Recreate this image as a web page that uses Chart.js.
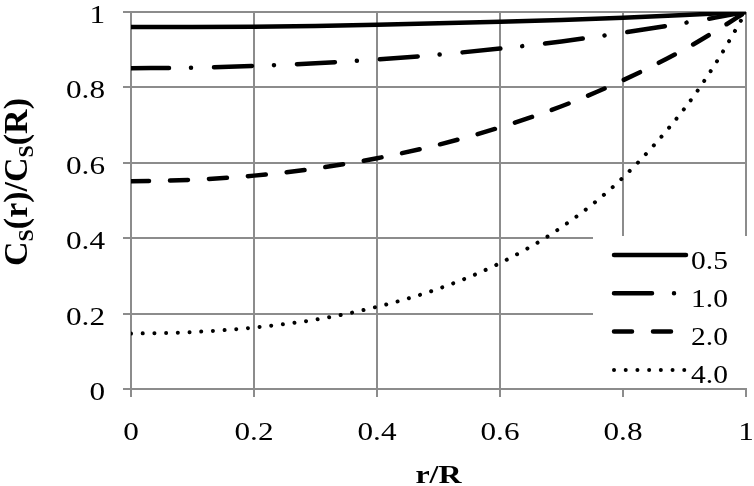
<!DOCTYPE html>
<html>
<head>
<meta charset="utf-8">
<script src="https://cdn.jsdelivr.net/npm/chart.js@4.4.0/dist/chart.umd.min.js"></script>
<style>
html, body { margin: 0; padding: 0; background: #fff; }
</style>
</head>
<body>
<canvas id="myChart" width="754" height="486"></canvas>
<script>
// values
var rValues = [0, 0.1, 0.2, 0.3, 0.4, 0.5, 0.6, 0.7, 0.8, 0.9, 0.95, 1];
var series05 = [0.960, 0.960, 0.961, 0.963, 0.966, 0.970, 0.974, 0.979, 0.985, 0.992, 0.996, 1];
var series10 = [0.851, 0.852, 0.857, 0.864, 0.874, 0.887, 0.903, 0.922, 0.945, 0.971, 0.985, 1];
var series20 = [0.551, 0.555, 0.566, 0.585, 0.612, 0.648, 0.694, 0.750, 0.819, 0.901, 0.949, 1];
var series40 = [0.147, 0.151, 0.163, 0.184, 0.218, 0.266, 0.334, 0.429, 0.561, 0.744, 0.862, 1];
var seriesNames = ['0.5', '1.0', '2.0', '4.0'];
var xTickLabels = ['0', '0.2', '0.4', '0.6', '0.8', '1'];
var yTickLabels = ['0', '0.2', '0.4', '0.6', '0.8', '1'];
var xTitle = 'r/R';

var serif = '"Liberation Serif", "Times New Roman", serif';
var gridColor = '#8c8c8c';
var textStretch = 1.2; // the source picture has wide text

function toPoints(ys) {
    return rValues.map(function (r, i) { return { x: r, y: ys[i] }; });
}

// draw text a bit wider than normal, like in the source picture
function wideText(ctx, text, x, y, align, font, sx) {
    ctx.save();
    ctx.font = font;
    ctx.translate(x, y);
    ctx.scale(sx, 1);
    ctx.textAlign = align;
    ctx.textBaseline = 'alphabetic';
    ctx.fillStyle = '#000';
    ctx.fillText(text, 0, 0);
    ctx.restore();
}

// tick labels and x title
var axisText = {
    id: 'axisText',
    afterDraw: function (chart) {
        var ctx = chart.ctx;
        var xs = chart.scales.x, ys = chart.scales.y;
        var font = '26px ' + serif;
        xs.ticks.forEach(function (t, i) {
            wideText(ctx, xTickLabels[i], xs.getPixelForTick(i), xs.top + 51, 'center', font, textStretch);
        });
        ys.ticks.forEach(function (t, i) {
            wideText(ctx, yTickLabels[i], ys.right - 26, ys.getPixelForTick(i) + 11, 'right', font, textStretch);
        });
        var area = chart.chartArea;
        wideText(ctx, xTitle, (area.left + area.right) / 2, 483, 'center', 'bold 25px ' + serif, 1.28);
    }
};

// legend drawn inside the plot, bottom right, on a white box
var legendBox = {
    id: 'legendBox',
    afterDatasetsDraw: function (chart) {
        var ctx = chart.ctx;
        var area = chart.chartArea;
        ctx.save();
        ctx.fillStyle = '#fff';
        ctx.fillRect(area.right - 153, area.bottom - 153, 170, 152);
        chart.data.datasets.forEach(function (ds, i) {
            var y = area.bottom - 134 + i * 38.3;
            ctx.beginPath();
            ctx.setLineDash(ds.borderDash || []);
            ctx.lineCap = ds.borderCapStyle || 'butt';
            ctx.lineWidth = ds.borderWidth;
            ctx.strokeStyle = ds.borderColor;
            ctx.moveTo(area.right - 132, y);
            ctx.lineTo(area.right - 60, y);
            ctx.stroke();
            ctx.setLineDash([]);
            wideText(ctx, ds.label, area.right - 55, y + 13.5, 'left', '25px ' + serif, 1.18);
        });
        ctx.restore();
    }
};

// y title with subscripts: C_S(r)/C_S(R)
var yTitle = {
    id: 'yTitle',
    afterDraw: function (chart) {
        var ctx = chart.ctx;
        var parts = [['C', 0], ['S', 1], ['(r)/', 0], ['C', 0], ['S', 1], ['(R)', 0]];
        var mainFont = 'bold 34px ' + serif;
        var subFont = 'bold 22px ' + serif;
        ctx.save();
        ctx.translate(27, 182);
        ctx.rotate(-Math.PI / 2);
        ctx.fillStyle = '#000';
        ctx.textBaseline = 'alphabetic';
        ctx.textAlign = 'left';
        var total = 0;
        parts.forEach(function (p) {
            ctx.font = p[1] ? subFont : mainFont;
            total += ctx.measureText(p[0]).width;
        });
        var x = -total / 2;
        parts.forEach(function (p) {
            ctx.font = p[1] ? subFont : mainFont;
            ctx.fillText(p[0], x, p[1] ? 6 : 0);
            x += ctx.measureText(p[0]).width;
        });
        ctx.restore();
    }
};

var ctx = document.getElementById('myChart');
var myChart = new Chart(ctx, {
    type: 'line',
    data: {
        datasets: [
            { label: seriesNames[0], data: toPoints(series05), borderColor: '#000', borderWidth: 4.5, borderCapStyle: 'round', borderDash: [] },
            { label: seriesNames[1], data: toPoints(series10), borderColor: '#000', borderWidth: 4.5, borderCapStyle: 'round', borderDash: [38, 22, 0.01, 23] },
            { label: seriesNames[2], data: toPoints(series20), borderColor: '#000', borderWidth: 4.5, borderCapStyle: 'round', borderDash: [18, 21] },
            { label: seriesNames[3], data: toPoints(series40), borderColor: '#000', borderWidth: 4, borderCapStyle: 'round', borderDash: [0.01, 11.7] }
        ]
    },
    options: {
        responsive: false,
        animation: false,
        devicePixelRatio: 1,
        layout: { padding: { top: 12, right: 8, left: 0, bottom: 0 } },
        elements: {
            point: { radius: 0 },
            line: { cubicInterpolationMode: 'monotone', fill: false }
        },
        plugins: {
            legend: { display: false },
            tooltip: { enabled: false }
        },
        scales: {
            x: {
                type: 'linear',
                min: 0,
                max: 1,
                grid: { color: gridColor, lineWidth: 2, tickLength: 8 },
                border: { color: gridColor, width: 2 },
                ticks: { stepSize: 0.2, display: false },
                afterFit: function (scale) {
                    scale.height = 97;
                    scale.paddingLeft = 0;
                    scale.paddingRight = 0;
                }
            },
            y: {
                min: 0,
                max: 1,
                grid: { color: gridColor, lineWidth: 2, tickLength: 8 },
                border: { color: gridColor, width: 2 },
                ticks: { stepSize: 0.2, display: false },
                afterFit: function (scale) {
                    scale.width = 131;
                    scale.paddingTop = 0;
                    scale.paddingBottom = 0;
                }
            }
        }
    },
    plugins: [legendBox, axisText, yTitle]
});
</script>
</body>
</html>
